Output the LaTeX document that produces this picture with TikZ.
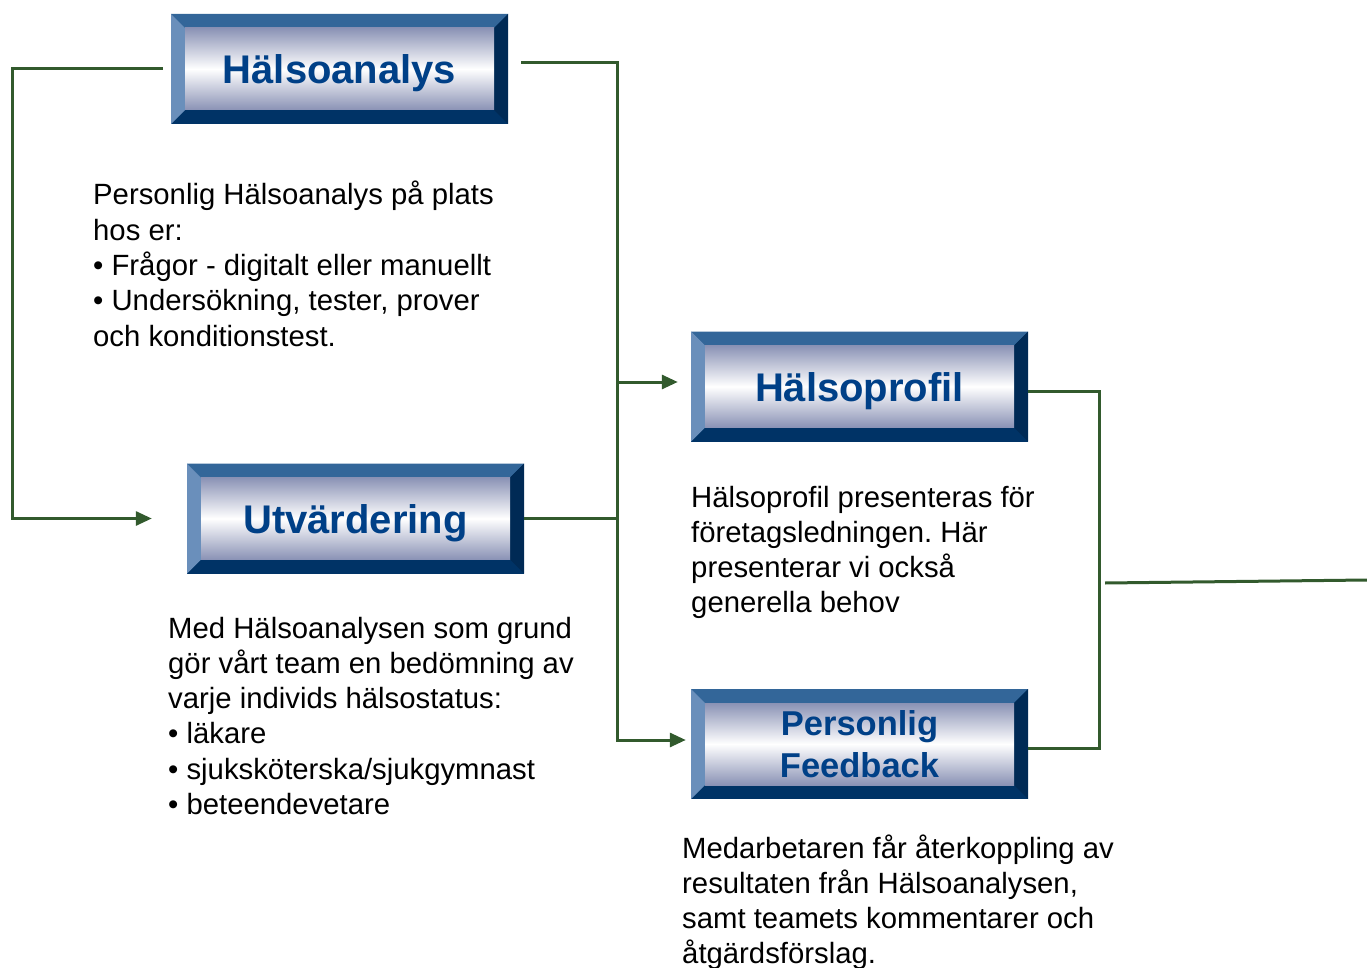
\documentclass[tikz,border=0pt]{standalone}
\usepackage{fontspec}
\setmainfont{Liberation Sans}
\usetikzlibrary{arrows.meta}
\definecolor{linegreen}{RGB}{50,90,45}
\definecolor{titleblue}{RGB}{0,64,135}
\definecolor{bevtop}{RGB}{51,102,153}
\definecolor{bevleft}{RGB}{106,143,187}
\definecolor{bevbottom}{RGB}{0,51,102}
\definecolor{bevright}{RGB}{0,42,85}
\definecolor{faceedge}{RGB}{138,146,181}
\def\bev{14pt}
\tikzset{
  bevelbox/.style={minimum width=337pt, minimum height=110pt, inner sep=0pt,
    fill=bevbottom, text=titleblue, align=center,
    font=\fontsize{40}{42}\selectfont\bfseries,
    path picture={
      \fill[bevtop] (path picture bounding box.north west) -- (path picture bounding box.north east)
        -- ([xshift=-\bev,yshift=-\bev]path picture bounding box.north east)
        -- ([xshift=\bev,yshift=-\bev]path picture bounding box.north west) -- cycle;
      \fill[bevleft] (path picture bounding box.north west) -- (path picture bounding box.south west)
        -- ([xshift=\bev,yshift=\bev]path picture bounding box.south west)
        -- ([xshift=\bev,yshift=-\bev]path picture bounding box.north west) -- cycle;
      \fill[bevright] (path picture bounding box.north east) -- (path picture bounding box.south east)
        -- ([xshift=-\bev,yshift=\bev]path picture bounding box.south east)
        -- ([xshift=-\bev,yshift=-\bev]path picture bounding box.north east) -- cycle;
      \shade[top color=faceedge, bottom color=faceedge, middle color=white]
        ([xshift=\bev,yshift=-\bev]path picture bounding box.north west)
        rectangle ([xshift=-\bev,yshift=\bev]path picture bounding box.south east);
    }},
  oneline/.style={text height=38pt, text depth=8pt},
  twolines/.style={font=\fontsize{34.5}{42}\selectfont\bfseries},
  link/.style={draw=linegreen, line width=3pt},
  info/.style={anchor=base west, inner sep=0pt, font=\fontsize{29.3}{35.3}\selectfont}
}
\newcommand{\infotext}[1]{\parbox[t]{20cm}{\raggedright\frenchspacing #1}}
\begin{document}
\begin{tikzpicture}[x=1pt, y=-1pt, >={Triangle[length=16pt,width=14pt]}]
\useasboundingbox (0,0) rectangle (1367,968);
% boxes
\node[bevelbox, oneline] (ha) at (339.5,69) {Hälsoanalys};
\node[bevelbox, oneline] (ut) at (355.5,518.5) {Utvärdering};
\node[bevelbox, oneline] (hp) at (859.5,386.5) {Hälsoprofil};
\node[bevelbox, twolines] (pf) at (859.5,744) {Personlig\\Feedback};
% texts
\node[info] (haText) at (93,205) {\infotext{Personlig Hälsoanalys på plats\\hos er:\\• Frågor - digitalt eller manuellt\\• Undersökning, tester, prover\\och konditionstest.}};
\node[info] (utText) at (168,638) {\infotext{Med Hälsoanalysen som grund\\gör vårt team en bedömning av\\varje individs hälsostatus:\\• läkare\\• sjuksköterska/sjukgymnast\\• beteendevetare}};
\node[info] (hpText) at (691,507) {\infotext{Hälsoprofil presenteras för\\företagsledningen. Här\\presenterar vi också\\generella behov}};
\node[info] (pfText) at (682,858) {\infotext{Medarbetaren får återkoppling av\\resultaten från Hälsoanalysen,\\samt teamets kommentarer och\\åtgärdsförslag.}};
% connectors
\coordinate (lbus) at (12,0);
\coordinate (mbus) at (617,0);
\coordinate (rbus) at (1099,0);
\coordinate (outS) at (1105,583);
\coordinate (outE) at (1367,580);
\draw[link, ->] ([xshift=-8pt]ha.west) -- (lbus |- ha.west) |- ([xshift=-35pt]ut.west);
\draw[link, ->] ([xshift=13pt,yshift=6pt]ha.east) -| ([yshift=4pt]mbus |- pf.west) -- ([xshift=-5pt,yshift=4pt]pf.west);
\draw[link, ->] ([yshift=4.5pt]mbus |- hp.west) -- ([xshift=-13pt,yshift=4.5pt]hp.west);
\draw[link] (ut.east) -- (mbus |- ut.east);
\draw[link] ([yshift=-4.5pt]hp.east) -| ([yshift=-4pt]rbus |- pf.east) -- ([yshift=-4pt]pf.east);
\draw[link] (outS) -- (outE);
\end{tikzpicture}
\end{document}
